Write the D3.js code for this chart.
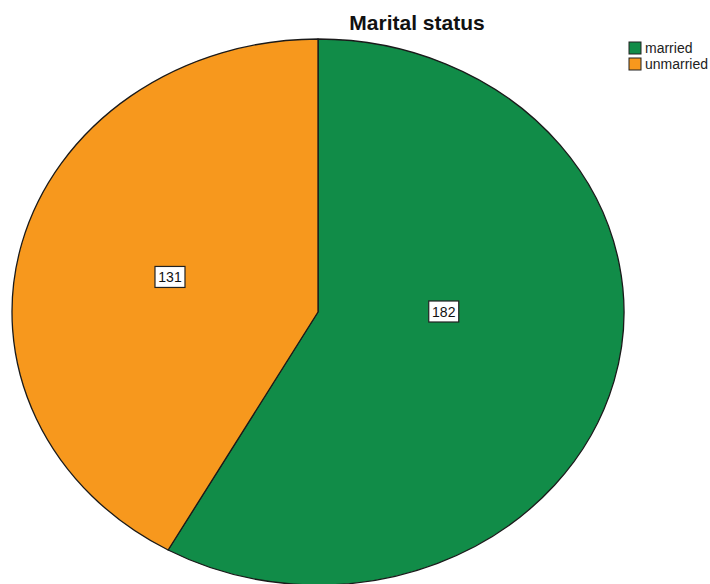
<!DOCTYPE html>
<html>
<head>
<meta charset="utf-8">
<script src="https://cdn.jsdelivr.net/npm/d3@7/dist/d3.min.js"></script>
<style>
  html, body { margin: 0; padding: 0; background: #fff; }
  svg { display: block; font-family: "Liberation Sans", Arial, sans-serif; }
</style>
</head>
<body>
<svg id="chart" width="710" height="584"></svg>
<script>
// Marital status counts
const categories = ["married", "unmarried"];
const counts = [182, 131];
const colors = ["#118c48", "#f7981d"];
const title = "Marital status";

const W = 710, H = 584;
const cx = 318, cy = 312, rx = 306, ry = 273;

const svg = d3.select("#chart");

const pie = d3.pie().sort(null).value(d => d.value);
const arcs = pie(categories.map((c, i) => ({ name: c, value: counts[i], color: colors[i] })));

// Pie drawn on a circle of radius ry, stretched horizontally into an ellipse
const arc = d3.arc().innerRadius(0).outerRadius(ry);
const g = svg.append("g")
  .attr("transform", `translate(${cx},${cy}) scale(${rx / ry},1)`);

g.selectAll("path.slice")
  .data(arcs)
  .enter().append("path")
  .attr("class", "slice")
  .attr("d", arc)
  .attr("fill", d => d.data.color)
  .attr("stroke", "#1a1a1a")
  .attr("stroke-width", 1.3)
  .attr("stroke-linejoin", "round")
  .attr("vector-effect", "non-scaling-stroke");

// Value labels inside each slice; slices wider than a half pie pull their
// label toward the centre of the first half-turn they cover
function labelPoint(d) {
  const span = d.endAngle - d.startAngle;
  let a = (d.startAngle + d.endAngle) / 2;
  if (span > Math.PI) a = (d.startAngle + Math.min(d.endAngle, d.startAngle + Math.PI)) / 2;
  const f = 0.5 * Math.pow(Math.min(1, Math.PI / span), 1.3);
  return [cx + f * rx * Math.sin(a), cy - f * ry * Math.cos(a)];
}

const labels = svg.selectAll("g.lbl")
  .data(arcs)
  .enter().append("g")
  .attr("class", "lbl")
  .attr("transform", d => { const p = labelPoint(d); return `translate(${p[0]},${p[1]})`; });

labels.append("rect")
  .attr("x", -15).attr("y", -11).attr("width", 30).attr("height", 21)
  .attr("fill", "#fff")
  .attr("stroke", "#222")
  .attr("stroke-width", 1.2);

labels.append("text")
  .attr("text-anchor", "middle")
  .attr("y", 5)
  .attr("font-size", 14)
  .attr("fill", "#111")
  .text(d => d.data.value);

// Title
svg.append("text")
  .attr("x", 417).attr("y", 30)
  .attr("text-anchor", "middle")
  .attr("font-size", 21)
  .attr("font-weight", "bold")
  .attr("fill", "#111")
  .text(title);

// Legend
const legend = svg.append("g").attr("transform", "translate(629,42)");
const items = legend.selectAll("g")
  .data(categories)
  .enter().append("g")
  .attr("transform", (d, i) => `translate(0,${i * 16})`);
items.append("rect")
  .attr("width", 12).attr("height", 12)
  .attr("fill", (d, i) => colors[i])
  .attr("stroke", "#222").attr("stroke-width", 1);
items.append("text")
  .attr("x", 16).attr("y", 11)
  .attr("font-size", 14)
  .attr("fill", "#222")
  .text(d => d);
</script>
</body>
</html>
